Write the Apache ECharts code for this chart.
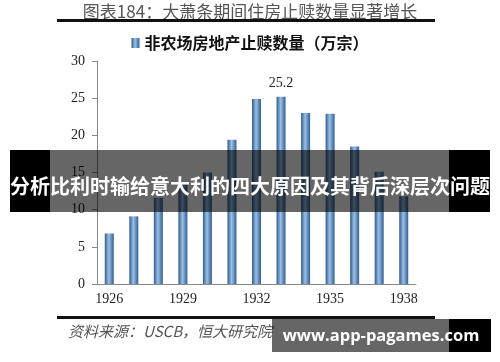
<!DOCTYPE html>
<html style="height: 100%; margin: 0; padding: 0;">
<head>
    <meta charset="utf-8">
    <title>非农场房地产止赎数量</title>
    <script src="https://cdn.jsdelivr.net/npm/echarts@6.0.0/dist/echarts.min.js"></script>
    <style>
        body, html {
            height: 100%;
            margin: 0;
            padding: 0;
            overflow: hidden;
            background-color: #ffffff;
        }
        #main {
            height: 362px;
            width: 500px;
        }
    </style>
</head>
<body>
<div id="main"></div>
<script type="text/javascript">
    // 年份与止赎数量（万宗）
    var years = ['1926', '1927', '1928', '1929', '1930', '1931', '1932',
                 '1933', '1934', '1935', '1936', '1937', '1938'];
    var foreclosures = [6.8, 9.1, 11.6, 13.5, 15.0, 19.4, 24.9, 25.2, 23.0, 22.9, 18.5, 15.1, 11.8];
    var seriesName = '非农场房地产止赎数量（万宗）';
    var yTicks = [0, 5, 10, 15, 20, 25, 30];

    var myChart = echarts.init(document.getElementById('main'));

    // 圆柱感的横向渐变
    var barColor = new echarts.graphic.LinearGradient(0, 0, 1, 0, [
        { offset: 0, color: '#2d5b8c' },
        { offset: 0.45, color: '#9cc0e6' },
        { offset: 1, color: '#2f5f92' }
    ]);

    // 只在最高的柱子上标数值
    var maxIdx = foreclosures.indexOf(Math.max.apply(null, foreclosures));
    var barData = foreclosures.map(function (v, i) {
        return {
            value: v,
            label: { show: i === maxIdx }
        };
    });

    var option = {
        animation: false,
        grid: { left: 97, right: 84, top: 61, bottom: 78 },
        legend: {
            data: [seriesName],
            top: 30,
            left: 'center',
            icon: 'rect',
            itemWidth: 8,
            itemHeight: 10,
            itemGap: 5,
            textStyle: {
                fontFamily: 'Noto Sans CJK SC',
                fontWeight: 'bold',
                fontSize: 16,
                color: '#111'
            }
        },
        xAxis: {
            type: 'category',
            data: years,
            axisLine: { lineStyle: { color: '#888' } },
            axisTick: { interval: 2, length: 5, lineStyle: { color: '#888' } },
            axisLabel: {
                interval: 2,
                margin: 8,
                color: '#222',
                fontFamily: 'Liberation Serif',
                fontSize: 14
            }
        },
        yAxis: {
            type: 'value',
            min: yTicks[0],
            max: yTicks[yTicks.length - 1],
            interval: 5,
            splitLine: { show: false },
            axisLine: { show: true, lineStyle: { color: '#888' } },
            axisTick: { show: true, length: 5, lineStyle: { color: '#888' } },
            axisLabel: {
                margin: 12,
                color: '#222',
                fontFamily: 'Liberation Serif',
                fontSize: 14
            }
        },
        series: [{
            name: seriesName,
            type: 'bar',
            data: barData,
            barWidth: 9,
            itemStyle: { color: barColor },
            label: {
                position: 'top',
                distance: 6,
                color: '#222',
                fontFamily: 'Liberation Serif',
                fontSize: 14
            }
        }],
        graphic: [
            // 标题
            {
                type: 'text', left: 'center', top: 3, z: 10,
                style: {
                    text: '图表184：大萧条期间住房止赎数量显著增长',
                    fill: '#555',
                    font: '17px "Noto Sans CJK SC"'
                }
            },
            { type: 'rect', shape: { x: 57, y: 19, width: 378, height: 3 }, style: { fill: '#111' }, z: 10 },
            { type: 'rect', shape: { x: 57, y: 316, width: 378, height: 3 }, style: { fill: '#111' }, z: 10 },
            // 资料来源
            {
                type: 'text', left: 68, top: 324, z: 10,
                style: {
                    text: '资料来源：USCB，恒大研究院',
                    fill: '#555',
                    font: 'italic 15px "Noto Sans CJK SC"'
                }
            },
            // 中间的横幅
            { type: 'rect', shape: { x: 10, y: 150, width: 40, height: 62 }, style: { fill: '#000' }, z: 100 },
            { type: 'rect', shape: { x: 50, y: 150, width: 399, height: 62 }, style: { fill: 'rgba(0,0,0,0.6)' }, z: 100 },
            { type: 'rect', shape: { x: 449, y: 150, width: 41, height: 62 }, style: { fill: '#000' }, z: 100 },
            {
                type: 'text', x: 250, y: 186, z: 101,
                style: {
                    text: '分析比利时输给意大利的四大原因及其背后深层次问题',
                    fill: '#fff',
                    font: 'bold 20px "Noto Sans CJK SC"',
                    align: 'center',
                    verticalAlign: 'middle'
                }
            },
            // 右下角水印
            { type: 'rect', shape: { x: 272, y: 319, width: 177, height: 33 }, style: { fill: 'rgba(0,0,0,0.6)' }, z: 100 },
            { type: 'rect', shape: { x: 449, y: 319, width: 42, height: 33 }, style: { fill: '#000' }, z: 100 },
            {
                type: 'text', x: 381, y: 336, z: 101,
                style: {
                    text: 'www.app-pagames.com',
                    fill: '#fff',
                    font: 'bold 16.5px "Open Sans"',
                    align: 'center',
                    verticalAlign: 'middle'
                }
            }
        ]
    };

    myChart.setOption(option);
</script>
</body>
</html>
